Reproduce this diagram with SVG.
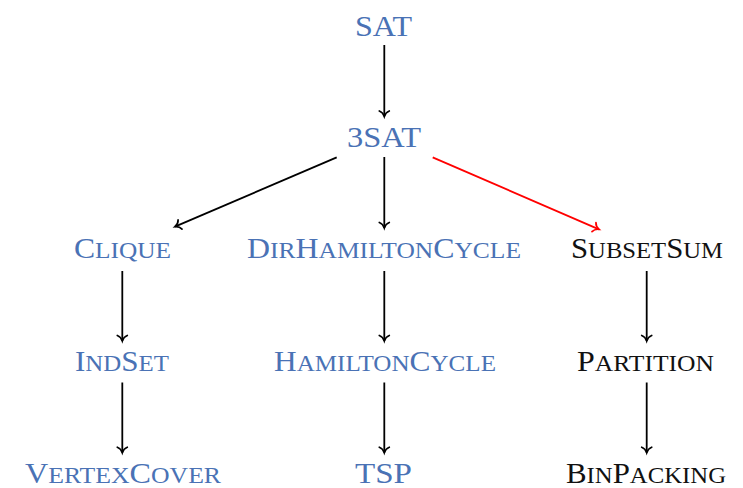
<svg xmlns="http://www.w3.org/2000/svg" width="743" height="488" viewBox="0 0 743 488">
<style>
text{font-family:"Liberation Serif","DejaVu Serif",serif;font-size:30px}
.b{fill:#4a72b5}
.k{fill:#111}
.s{font-size:24px}
.e{fill:none;stroke:#000;stroke-width:1.8}
.r{stroke:#f00}
</style>
<defs>
<marker id="ah" markerUnits="userSpaceOnUse" viewBox="-8 -7 10 14" refX="0" refY="0" markerWidth="10" markerHeight="14" orient="auto" overflow="visible">
<path d="M-5.5,-5 C-4.5,-2.2 -1.8,-0.6 0,0 C-1.8,0.6 -4.5,2.2 -5.5,5" fill="none" stroke="#000" stroke-width="1.7" stroke-linecap="round"/>
</marker>
<marker id="ahr" markerUnits="userSpaceOnUse" viewBox="-8 -7 10 14" refX="0" refY="0" markerWidth="10" markerHeight="14" orient="auto" overflow="visible">
<path d="M-5.5,-5 C-4.5,-2.2 -1.8,-0.6 0,0 C-1.8,0.6 -4.5,2.2 -5.5,5" fill="none" stroke="#f00" stroke-width="1.7" stroke-linecap="round"/>
</marker>
</defs>
<g id="connectors">
<path class="e" d="M384.3,45 L384.3,116.5" marker-end="url(#ah)"/>
<path class="e" d="M336.7,157.3 L175,226.7" marker-end="url(#ah)"/>
<path class="e" d="M384.3,157 L384.3,228" marker-end="url(#ah)"/>
<path class="e r" d="M432.7,157.3 L599,229.3" marker-end="url(#ahr)"/>
<path class="e" d="M122.3,271 L122.3,341" marker-end="url(#ah)"/>
<path class="e" d="M384.3,271 L384.3,341" marker-end="url(#ah)"/>
<path class="e" d="M646.7,271 L646.7,341" marker-end="url(#ah)"/>
<path class="e" d="M122.3,382.5 L122.3,452.7" marker-end="url(#ah)"/>
<path class="e" d="M384.3,382.5 L384.3,452.7" marker-end="url(#ah)"/>
<path class="e" d="M646.7,382.5 L646.7,452.7" marker-end="url(#ah)"/>
</g>
<g id="sat"><text class="b" x="355" y="36" textLength="57" lengthAdjust="spacingAndGlyphs">SAT</text></g>
<g id="threesat"><text class="b" x="347" y="147" textLength="74" lengthAdjust="spacingAndGlyphs">3SAT</text></g>
<g id="clique"><text class="b" x="74" y="258" textLength="97" lengthAdjust="spacingAndGlyphs">C<tspan class="s">LIQUE</tspan></text></g>
<g id="dirham"><text class="b" x="247" y="258" textLength="274" lengthAdjust="spacingAndGlyphs">D<tspan class="s">IR</tspan>H<tspan class="s">AMILTON</tspan>C<tspan class="s">YCLE</tspan></text></g>
<g id="subsetsum"><text class="k" x="571" y="258" textLength="152" lengthAdjust="spacingAndGlyphs">S<tspan class="s">UBSET</tspan>S<tspan class="s">UM</tspan></text></g>
<g id="indset"><text class="b" x="75" y="371" textLength="94" lengthAdjust="spacingAndGlyphs">I<tspan class="s">ND</tspan>S<tspan class="s">ET</tspan></text></g>
<g id="ham"><text class="b" x="274" y="371" textLength="222" lengthAdjust="spacingAndGlyphs">H<tspan class="s">AMILTON</tspan>C<tspan class="s">YCLE</tspan></text></g>
<g id="partition"><text class="k" x="577" y="371" textLength="137" lengthAdjust="spacingAndGlyphs">P<tspan class="s">ARTITION</tspan></text></g>
<g id="vertexcover"><text class="b" x="25" y="483" textLength="196" lengthAdjust="spacingAndGlyphs">V<tspan class="s">ERTEX</tspan>C<tspan class="s">OVER</tspan></text></g>
<g id="tsp"><text class="b" x="355" y="483" textLength="57" lengthAdjust="spacingAndGlyphs">TSP</text></g>
<g id="binpacking"><text class="k" x="566" y="483" textLength="160" lengthAdjust="spacingAndGlyphs">B<tspan class="s">IN</tspan>P<tspan class="s">ACKING</tspan></text></g>
</svg>
